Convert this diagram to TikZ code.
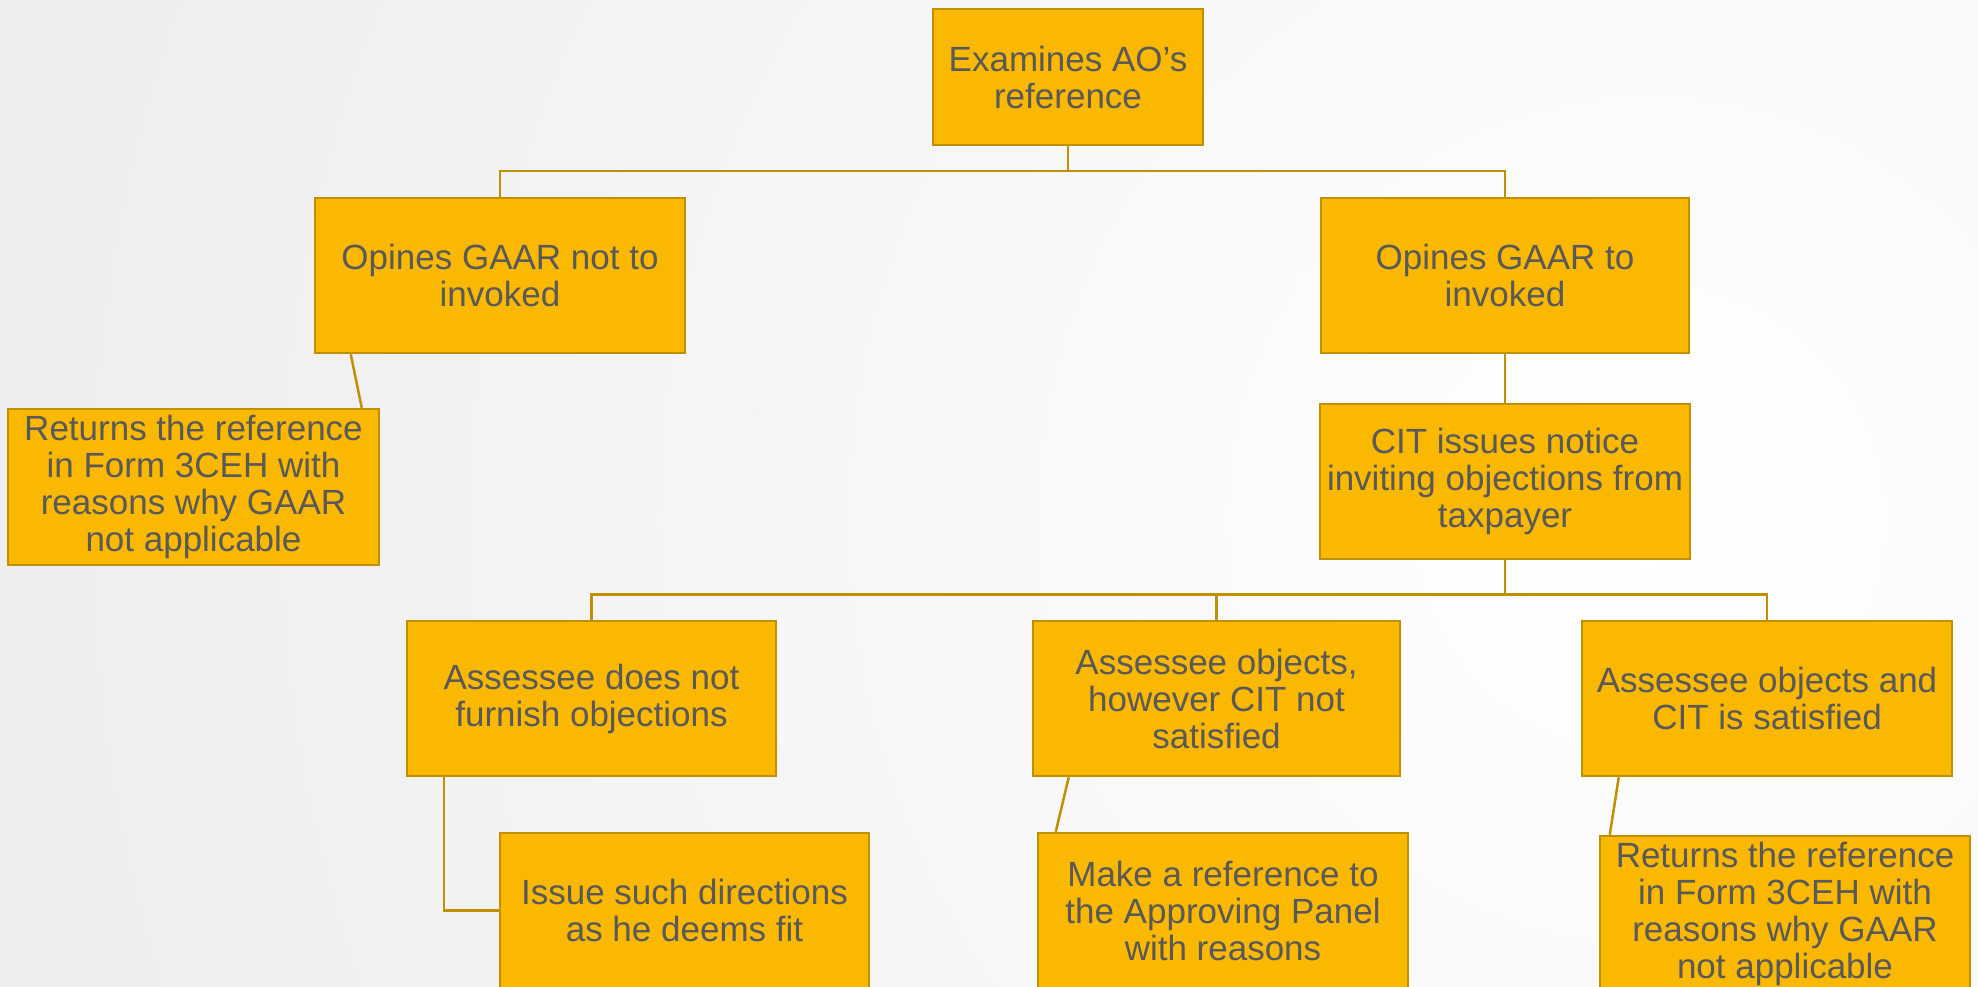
\documentclass[tikz,border=0pt]{standalone}
\usepackage{fontspec}
\setmainfont{Liberation Sans}
\usepackage{tikz}
\usetikzlibrary{positioning, calc}
\usepackage{xcolor}
\definecolor{ChartGold}{HTML}{FAB800}
\definecolor{ChartEdge}{HTML}{BF9000}
\definecolor{ChartText}{HTML}{595959}
\definecolor{ChartBack}{HTML}{DADADA}
\tikzset{
    % Box styles - sharp corners, gold fill
    chartbox/.style={
        rectangle,
        draw=ChartEdge,
        fill=ChartGold,
        line width=2.5pt,
        minimum width=370pt,
        minimum height=155pt,
        inner sep=0pt,
        align=center,
        text=ChartText,
        font=\fontsize{35}{37}\selectfont
    },
    % Connector style - plain lines, no tips
    connector/.style={
        line width=2.5pt,
        draw=ChartEdge
    }
}

\begin{document}
\begin{tikzpicture}[x=1pt, y=-1pt]
    % background
    \useasboundingbox (0,0) rectangle (1978,987);
    \begin{scope}
        \clip (0,0) rectangle (1978,987);
        \shade[inner color=white, outer color=ChartBack] (1650,520) circle (3500);
    \end{scope}

    \node[chartbox, minimum width=270pt, minimum height=136pt] (examine) at (1068,77) {Examines AO’s\\reference};

    \node[chartbox] (notinvoke) at (500,275.5) {Opines GAAR not to\\invoked};
    \node[chartbox, minimum width=368pt] (invoke) at (1505,275.5) {Opines GAAR to\\invoked};

    \node[chartbox, minimum width=371pt, minimum height=156pt] (returnleft) at (193.5,487) {Returns the reference\\in Form 3CEH with\\reasons why GAAR\\not applicable};
    \node[chartbox] (notice) at (1505,481.5) {CIT issues notice\\inviting objections from\\taxpayer};

    \node[chartbox, minimum width=369pt] (noobject) at (591.5,698.5) {Assessee does not\\furnish objections};
    \node[chartbox, minimum width=367pt] (notsatisfied) at (1216.5,698.5) {Assessee objects,\\however CIT not\\satisfied};
    \node[chartbox] (satisfied) at (1767,698.5) {Assessee objects and\\CIT is satisfied};

    \node[chartbox, minimum width=369pt] (directions) at (684.5,910.5) {Issue such directions\\as he deems fit};
    \node[chartbox] (panel) at (1223,910.5) {Make a reference to\\the Approving Panel\\with reasons};
    \node[chartbox] (returnright) at (1785,913.5) {Returns the reference\\in Form 3CEH with\\reasons why GAAR\\not applicable};

    \draw[connector] (examine.south) -- ++(0,25) -| (notinvoke.north);
    \draw[connector] (examine.south) -- ++(0,25) -| (invoke.north);
    \draw[connector] ([xshift=37pt]notinvoke.south west) -- ([xshift=355pt]returnleft.north west);
    \draw[connector] (invoke.south) -- (notice.north);

    \draw[connector] (notice.south) -- ++(0,34) -| (noobject.north);
    \draw[connector] (notice.south) -- ++(0,34) -| (notsatisfied.north);
    \draw[connector] (notice.south) -- ++(0,34) -| (satisfied.north);

    \draw[connector] ([xshift=38pt]noobject.south west) |- (directions.west);
    \draw[connector] ([xshift=37pt]notsatisfied.south west) -- ([xshift=19pt]panel.north west);
    \draw[connector] ([xshift=38pt]satisfied.south west) -- ([xshift=11pt]returnright.north west);
\end{tikzpicture}
\end{document}
